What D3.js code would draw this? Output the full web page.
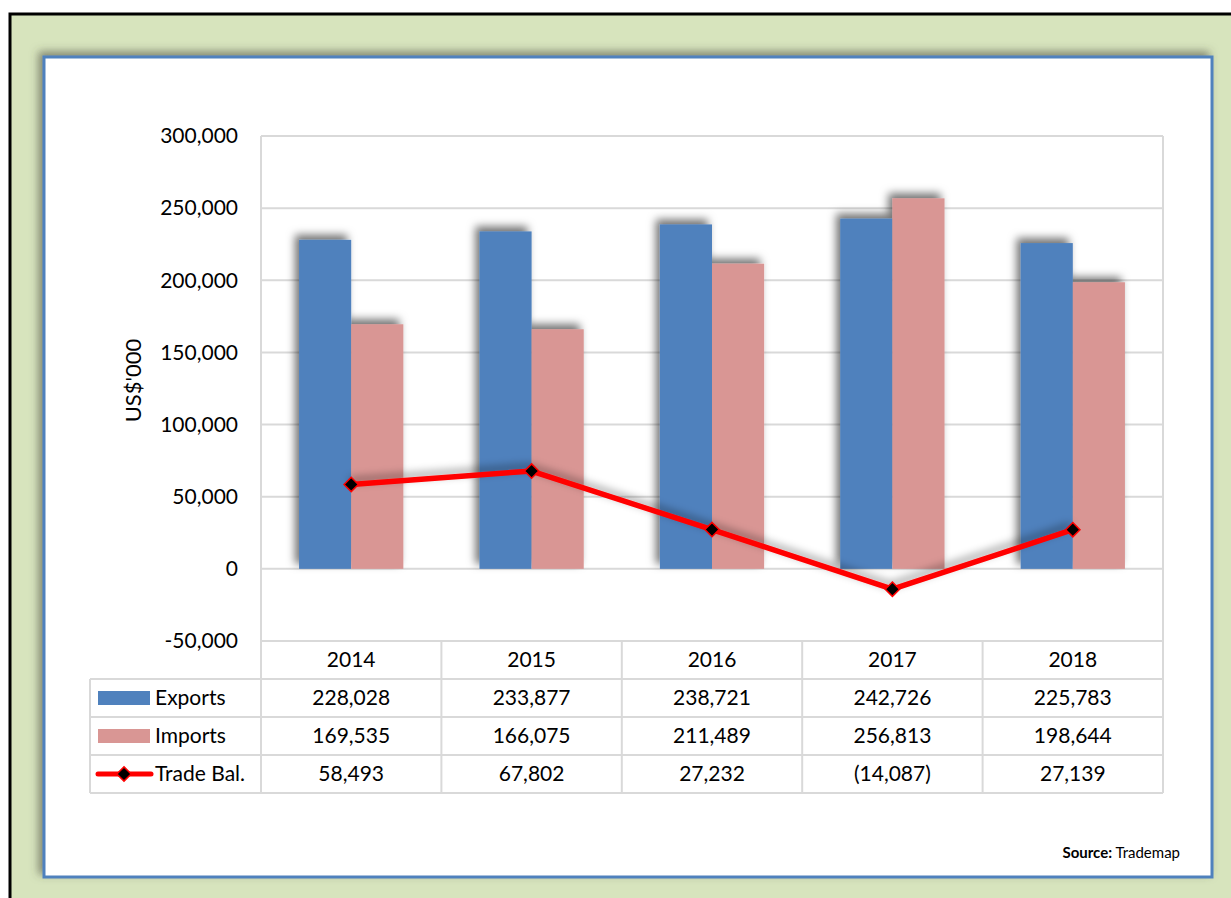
<!DOCTYPE html>
<html>
<head>
<meta charset="utf-8">
<script src="https://cdn.jsdelivr.net/npm/d3@7"></script>
<style>
  body { margin: 0; background: #fff; }
  svg { display: block; font-family: Lato, "Open Sans", sans-serif; }
</style>
</head>
<body>
<svg id="chart" width="1231" height="898"></svg>
<script>
"use strict";

const years = ["2014", "2015", "2016", "2017", "2018"];
const exportsVals = [228028, 233877, 238721, 242726, 225783];
const importsVals = [169535, 166075, 211489, 256813, 198644];
const tradeBal = [58493, 67802, 27232, -14087, 27139];
const yTicks = [-50000, 0, 50000, 100000, 150000, 200000, 250000, 300000];

const seriesNames = ["Exports", "Imports"];
const seriesColors = {Exports: "#4F81BD", Imports: "#D99694"};

const svg = d3.select("#chart");

// shadows
const defs = svg.append("defs");
defs.append("filter").attr("id", "panelShadow")
    .attr("x", "-5%").attr("y", "-5%").attr("width", "110%").attr("height", "110%")
    .append("feDropShadow")
    .attr("dx", -4).attr("dy", -4).attr("stdDeviation", 4)
    .attr("flood-color", "#4a4a3a").attr("flood-opacity", 0.6);
defs.append("filter").attr("id", "barShadow")
    .attr("x", "-30%").attr("y", "-10%").attr("width", "160%").attr("height", "120%")
    .append("feDropShadow")
    .attr("dx", -4).attr("dy", -5).attr("stdDeviation", 4)
    .attr("flood-color", "#000").attr("flood-opacity", 0.55);
defs.append("filter").attr("id", "lineShadow")
    .attr("x", "-10%").attr("y", "-30%").attr("width", "120%").attr("height", "160%")
    .append("feDropShadow")
    .attr("dx", -2).attr("dy", -4).attr("stdDeviation", 4)
    .attr("flood-color", "#000").attr("flood-opacity", 0.4);

// background frame
svg.append("rect").attr("x", 10).attr("y", 14).attr("width", 1240).attr("height", 900)
    .attr("fill", "#D7E4BD").attr("stroke", "#000").attr("stroke-width", 3);
svg.append("rect").attr("x", 44).attr("y", 57).attr("width", 1168).attr("height", 820)
    .attr("fill", "#fff").attr("stroke", "#4F81BD").attr("stroke-width", 3)
    .attr("filter", "url(#panelShadow)");

const plot = {left: 261, right: 1163, top: 136, bottom: 641};

const x = d3.scaleBand().domain(years).range([plot.left, plot.right]).paddingInner(0).paddingOuter(0);
const xs = d3.scaleBand().domain(seriesNames).range([0, x.bandwidth()]).paddingInner(0).paddingOuter(0.73);
const y = d3.scaleLinear().domain([-50000, 300000]).range([plot.bottom, plot.top]);

const fmt = d3.format(",");
const fmtTick = d => fmt(d).replace("\u2212", "-");
const fmtCell = d => d < 0 ? "(" + fmt(-d) + ")" : fmt(d);

// gridlines
svg.append("g")
    .selectAll("line")
    .data(yTicks)
    .join("line")
    .attr("x1", plot.left).attr("x2", plot.right)
    .attr("y1", d => y(d)).attr("y2", d => y(d))
    .attr("stroke", "#D9D9D9").attr("stroke-width", 2);
svg.append("line").attr("x1", plot.left).attr("x2", plot.left)
    .attr("y1", plot.top).attr("y2", plot.bottom).attr("stroke", "#D9D9D9").attr("stroke-width", 2);
svg.append("line").attr("x1", plot.right).attr("x2", plot.right)
    .attr("y1", plot.top).attr("y2", plot.bottom).attr("stroke", "#D9D9D9").attr("stroke-width", 2);

// y axis
const yAxis = svg.append("g")
    .attr("transform", "translate(" + (plot.left - 23) + ",0)")
    .call(d3.axisLeft(y).tickValues(yTicks).tickFormat(fmtTick).tickSize(0).tickPadding(0));
yAxis.select(".domain").remove();
yAxis.selectAll("text").attr("font-size", 21).attr("fill", "#000")
    .attr("font-family", "Lato, sans-serif");

svg.append("text")
    .attr("transform", "translate(141," + ((plot.top + plot.bottom) / 2 - 8) + ") rotate(-90)")
    .attr("text-anchor", "middle")
    .attr("font-size", 22)
    .text("US$'000");

// bars
const barData = [];
years.forEach((yr, i) => {
    barData.push({year: yr, series: "Exports", value: exportsVals[i]});
    barData.push({year: yr, series: "Imports", value: importsVals[i]});
});
svg.append("g")
    .attr("filter", "url(#barShadow)")
    .selectAll("rect")
    .data(barData)
    .join("rect")
    .attr("x", d => x(d.year) + xs(d.series))
    .attr("width", xs.bandwidth())
    .attr("y", d => y(Math.max(0, d.value)))
    .attr("height", d => Math.abs(y(d.value) - y(0)))
    .attr("fill", d => seriesColors[d.series]);

// trade balance line
const line = d3.line()
    .x((d, i) => x(years[i]) + x.bandwidth() / 2)
    .y(d => y(d));
svg.append("path")
    .datum(tradeBal)
    .attr("d", line)
    .attr("fill", "none")
    .attr("stroke", "#FF0000")
    .attr("stroke-width", 5.5)
    .attr("stroke-linejoin", "round")
    .attr("filter", "url(#lineShadow)");
const diamond = d3.symbol().type(d3.symbolDiamond2).size(130);
svg.append("g")
    .selectAll("path")
    .data(tradeBal)
    .join("path")
    .attr("d", diamond)
    .attr("transform", (d, i) => "translate(" + (x(years[i]) + x.bandwidth() / 2) + "," + y(d) + ")")
    .attr("fill", "#000")
    .attr("stroke", "#FF0000")
    .attr("stroke-width", 1.5);

// data table
const rowH = 38;
const tableTop = plot.bottom;
const tableLeft = 90;
const rows = [
    {name: "Exports", values: exportsVals},
    {name: "Imports", values: importsVals},
    {name: "Trade Bal.", values: tradeBal}
];
const grid = svg.append("g").attr("stroke", "#D9D9D9").attr("stroke-width", 2);
years.concat(["end"]).forEach((yr, i) => {
    const xx = i < years.length ? x(yr) : plot.right;
    grid.append("line").attr("x1", xx).attr("x2", xx)
        .attr("y1", tableTop).attr("y2", tableTop + rowH * 4);
});
grid.append("line").attr("x1", tableLeft).attr("x2", tableLeft)
    .attr("y1", tableTop + rowH).attr("y2", tableTop + rowH * 4);
for (let r = 1; r <= 4; r++) {
    grid.append("line").attr("x1", tableLeft).attr("x2", plot.right)
        .attr("y1", tableTop + rowH * r).attr("y2", tableTop + rowH * r);
}

svg.append("g")
    .selectAll("text")
    .data(years)
    .join("text")
    .attr("x", d => x(d) + x.bandwidth() / 2)
    .attr("y", tableTop + rowH / 2 + 7)
    .attr("text-anchor", "middle")
    .attr("font-size", 21)
    .text(d => d);

rows.forEach((row, r) => {
    const cy = tableTop + rowH * (r + 1) + rowH / 2;
    const g = svg.append("g");
    g.selectAll("text.val")
        .data(row.values)
        .join("text")
        .attr("class", "val")
        .attr("x", (d, i) => x(years[i]) + x.bandwidth() / 2)
        .attr("y", cy + 7)
        .attr("text-anchor", "middle")
        .attr("font-size", 21)
        .text(d => fmtCell(d));
    g.append("text")
        .attr("x", 155)
        .attr("y", cy + 7)
        .attr("font-size", 21)
        .text(row.name);
    if (row.name === "Trade Bal.") {
        g.append("line").attr("x1", 98).attr("x2", 151).attr("y1", cy).attr("y2", cy)
            .attr("stroke", "#FF0000").attr("stroke-width", 5).attr("stroke-linecap", "round");
        g.append("path").attr("d", diamond)
            .attr("transform", "translate(124," + cy + ")")
            .attr("fill", "#000").attr("stroke", "#FF0000").attr("stroke-width", 1.5);
    } else {
        g.append("rect").attr("x", 98).attr("y", cy - 7).attr("width", 52).attr("height", 14)
            .attr("fill", seriesColors[row.name]);
    }
});

// source note
const src = svg.append("text")
    .attr("x", 1180).attr("y", 858)
    .attr("text-anchor", "end")
    .attr("font-size", 15);
src.append("tspan").attr("font-weight", "bold").text("Source:");
src.append("tspan").text(" Trademap");
</script>
</body>
</html>
